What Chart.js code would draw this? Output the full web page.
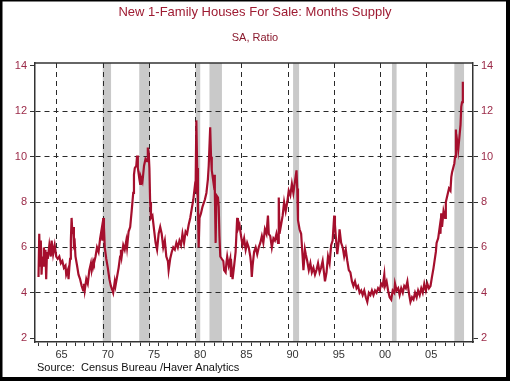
<!DOCTYPE html>
<html><head><meta charset="utf-8">
<script src="https://cdn.jsdelivr.net/npm/chart.js@4.4.1/dist/chart.umd.min.js"></script>
<style>html,body{margin:0;padding:0;background:#fff}#wrap{width:510px;height:381px;position:relative}</style>
</head><body><div id="wrap"><canvas id="c" width="510" height="381"></canvas></div>
<script>
const years = [
1963.00,1963.08,1963.17,1963.25,1963.33,1963.42,1963.50,1963.58,1963.67,1963.75,1963.83,1963.92,
1964.00,1964.17,1964.33,1964.42,1964.58,1964.75,1964.92,
1965.08,1965.25,1965.42,1965.58,1965.75,1965.92,
1966.00,1966.17,1966.25,1966.33,1966.42,1966.50,1966.58,1966.67,1966.75,1966.83,1966.92,
1967.00,1967.17,1967.33,1967.50,1967.67,1967.83,1967.92,
1968.00,1968.17,1968.33,1968.50,1968.67,1968.75,1968.92,
1969.00,1969.17,1969.33,1969.50,1969.67,1969.83,1969.92,
1970.00,1970.08,1970.17,1970.33,1970.50,1970.67,1970.83,
1971.00,1971.08,1971.25,1971.33,1971.50,1971.67,1971.83,1971.92,
1972.00,1972.17,1972.33,1972.50,1972.58,1972.75,1972.92,
1973.08,1973.25,1973.33,1973.42,1973.58,1973.67,1973.75,1973.92,
1974.00,1974.08,1974.25,1974.42,1974.58,1974.75,1974.83,1974.92,
1975.00,1975.08,1975.17,1975.33,1975.50,1975.67,1975.83,
1976.00,1976.17,1976.33,1976.50,1976.67,1976.83,
1977.00,1977.08,1977.25,1977.42,1977.58,1977.75,1977.92,
1978.08,1978.25,1978.42,1978.58,1978.75,1978.92,
1979.08,1979.25,1979.42,1979.58,1979.75,1979.92,
1980.00,1980.08,1980.17,1980.25,1980.33,1980.42,1980.58,1980.75,
1981.00,1981.17,1981.33,1981.42,1981.58,1981.67,1981.75,1981.92,
1982.00,1982.08,1982.17,1982.25,1982.42,1982.50,1982.58,1982.67,1982.83,
1983.00,1983.08,1983.25,1983.33,1983.42,1983.58,1983.75,1983.83,1983.92,
1984.00,1984.17,1984.33,1984.42,1984.50,1984.58,1984.75,1984.92,
1985.08,1985.25,1985.42,1985.58,1985.75,1985.92,
1986.00,1986.08,1986.17,1986.33,1986.50,1986.67,1986.83,
1987.00,1987.17,1987.33,1987.50,1987.67,1987.83,1987.92,
1988.08,1988.25,1988.42,1988.58,1988.75,1988.92,
1989.00,1989.08,1989.25,1989.42,1989.58,1989.75,1989.92,
1990.08,1990.25,1990.42,1990.58,1990.75,1990.92,
1991.00,1991.08,1991.25,1991.42,1991.58,1991.67,1991.83,1991.92,
1992.08,1992.25,1992.42,1992.58,1992.75,1992.92,
1993.08,1993.25,1993.42,1993.58,1993.75,1993.92,
1994.00,1994.17,1994.33,1994.50,1994.67,1994.83,
1995.00,1995.08,1995.17,1995.33,1995.50,1995.58,1995.75,1995.92,
1996.08,1996.25,1996.42,1996.58,1996.75,1996.92,
1997.08,1997.25,1997.42,1997.58,1997.75,1997.92,
1998.08,1998.25,1998.42,1998.58,1998.75,1998.92,
1999.08,1999.25,1999.42,1999.58,1999.75,1999.92,
2000.08,2000.25,2000.42,2000.50,2000.67,2000.83,
2001.00,2001.17,2001.33,2001.50,2001.58,2001.75,2001.92,
2002.08,2002.25,2002.42,2002.58,2002.75,2002.92,
2003.08,2003.25,2003.42,2003.58,2003.75,2003.92,
2004.08,2004.25,2004.42,2004.58,2004.75,2004.92,
2005.08,2005.25,2005.42,2005.58,2005.75,
2006.00,2006.08,2006.25,2006.42,2006.50,2006.58,2006.67,2006.83,
2007.00,2007.08,2007.25,2007.42,2007.58,2007.67,2007.75,
2008.00,2008.08,2008.17,2008.25,2008.33,2008.42,2008.58,2008.67,2008.75,2008.83,2008.92
];
const supply = [
4.7,6.6,5.2,6.3,4.8,5.6,5.2,6.0,5.5,5.9,4.6,5.8,
5.5,6.1,5.6,6.3,5.7,6.1,5.6,
5.5,5.6,5.3,5.4,5.1,5.2,
4.8,5.0,4.6,5.1,5.5,6.3,7.3,6.6,6.9,6.1,6.2,
5.6,5.2,4.8,4.6,4.3,4.1,4.4,
4.1,4.6,4.4,5.0,5.3,5.0,5.4,
5.3,5.6,6.0,5.8,6.4,6.8,6.3,
7.3,6.9,6.0,5.5,5.1,4.6,4.3,
4.1,4.0,4.5,4.3,4.7,5.1,5.6,5.9,
5.6,6.1,5.9,6.3,6.0,6.7,6.9,
7.6,8.4,9.2,9.5,9.6,10.05,9.5,9.0,
8.8,9.1,8.9,9.6,9.9,9.8,10.4,10.2,
9.5,8.0,7.3,7.4,6.8,6.2,5.9,
6.6,6.9,6.6,6.0,6.3,5.6,
5.4,5.0,5.5,5.8,6.0,5.9,6.2,
6.0,6.3,6.1,6.6,6.2,6.7,
6.6,7.0,7.3,7.7,8.1,8.7,
8.6,11.6,9.5,8.0,6.0,7.3,7.5,7.8,
8.1,8.4,9.0,9.6,11.3,10.0,9.4,8.9,
9.2,8.5,6.2,8.3,8.2,7.8,6.5,5.6,5.5,
5.4,5.0,4.9,5.3,5.6,5.2,5.5,4.7,5.0,
4.6,5.2,5.8,6.6,7.3,6.8,7.0,6.5,
6.1,6.4,5.9,6.2,6.0,5.6,
5.3,4.7,5.2,5.8,6.0,5.7,6.0,
6.2,6.5,6.2,6.8,6.6,7.4,6.6,
6.5,6.0,6.4,6.3,6.6,6.2,
8.2,6.6,7.0,7.4,8.0,7.6,8.0,
8.5,8.3,8.8,8.4,8.9,9.4,
8.6,7.2,6.8,6.6,5.6,5.0,5.9,5.7,
5.4,5.0,5.3,4.9,5.1,4.8,
5.0,5.3,4.9,5.1,5.4,4.8,
4.5,4.9,5.6,5.3,6.1,6.3,
7.4,7.0,6.5,5.7,6.3,6.8,6.2,6.0,
5.6,5.9,5.4,5.0,4.9,4.5,
4.3,4.5,4.2,4.3,4.0,4.1,
3.9,4.1,3.8,3.6,4.0,3.9,
4.1,3.9,4.1,4.0,4.2,4.1,
4.4,4.3,4.8,4.3,4.5,4.1,
3.8,3.7,4.1,4.0,4.4,4.1,4.2,
3.9,4.2,4.0,4.3,4.2,4.5,
4.0,3.6,3.8,3.7,4.0,3.8,
4.1,3.9,4.2,4.0,4.4,4.1,
4.4,4.2,4.3,4.7,5.1,
5.8,6.2,6.4,6.9,6.6,7.5,6.9,7.6,
7.3,8.0,8.3,8.6,8.5,9.1,9.3,
9.7,10.0,11.2,10.3,10.6,10.3,11.0,11.4,12.2,12.4,13.3
];
const recessionStart = [1969.95, 1973.9, 1980.0, 1981.5, 1990.55, 2001.25, 2008.0];
const recessionEnd   = [1970.85, 1975.05, 1980.5, 1982.85, 1991.2, 2001.75, 2009.05];
const yTickValues = [2, 4, 6, 8, 10, 12, 14];
const majorYears = [1965, 1970, 1975, 1980, 1985, 1990, 1995, 2000, 2005];
const majorLabels = ['65', '70', '75', '80', '85', '90', '95', '00', '05'];
const minorYears = [1963,1964,1965,1966,1967,1968,1969,1970,1971,1972,1973,1974,1975,1976,1977,1978,1979,1980,1981,1982,1983,1984,1985,1986,1987,1988,1989,1990,1991,1992,1993,1994,1995,1996,1997,1998,1999,2000,2001,2002,2003,2004,2005,2006,2007,2008,2009];
const titleText = 'New 1-Family Houses For Sale: Months Supply';
const subtitleText = 'SA, Ratio';
const sourceText = 'Source:  Census Bureau /Haver Analytics';

const FONT = "'Liberation Sans', Arial, sans-serif";
const points = years.map((y, i) => ({x: y, y: supply[i]}));

const deco = {
  id: 'deco',
  beforeDraw(chart) {
    const {ctx, chartArea: a, scales: {x}} = chart;
    ctx.save();
    ctx.fillStyle = '#fff';
    ctx.fillRect(0, 0, chart.width, chart.height);
    ctx.fillStyle = '#c9c9c9';
    for (let i = 0; i < recessionStart.length; i++) {
      const x0 = x.getPixelForValue(recessionStart[i]);
      const x1 = x.getPixelForValue(recessionEnd[i]);
      ctx.fillRect(x0, a.top, x1 - x0, a.bottom - a.top);
    }
    ctx.restore();
  },
  afterDraw(chart) {
    const {ctx, chartArea: a} = chart;
    ctx.save();
    ctx.strokeStyle = '#333';
    ctx.lineWidth = 1.5;
    ctx.beginPath();
    ctx.moveTo(a.left, a.top); ctx.lineTo(a.right, a.top);
    ctx.stroke();
    ctx.fillStyle = '#000';
    ctx.fillRect(0, 0, 2.5, chart.height);
    ctx.fillRect(0, 0, chart.width, 1.5);
    ctx.fillRect(chart.width - 4, 0, 4, chart.height);
    ctx.fillRect(0, chart.height - 4, chart.width, 4);
    ctx.textAlign = 'center';
    ctx.textBaseline = 'middle';
    ctx.fillStyle = '#9e1b32';
    ctx.font = '13px ' + FONT;
    ctx.fillText(titleText, 255, 12.5);
    ctx.fillStyle = '#8a1a2e';
    ctx.font = '11px ' + FONT;
    ctx.fillText(subtitleText, 255, 38);
    ctx.textAlign = 'left';
    ctx.fillStyle = '#111';
    ctx.font = '11px ' + FONT;
    ctx.fillText(sourceText, 37, 368);
    ctx.restore();
  }
};

const yAxisCommon = (pos, width) => ({
  type: 'linear', position: pos, min: 1.83, max: 14.13,
  afterBuildTicks: s => { s.ticks = yTickValues.map(v => ({value: v})); },
  afterFit: s => { s.width = width; },
  ticks: {color: '#9b2a48', font: {family: FONT, size: 11}, padding: 3},
  border: {display: true, color: '#333', width: 1.5, dash: [5, 4]},
  grid: {
    drawOnChartArea: pos === 'left',
    color: c => (c.tick && (c.tick.value === 2 || c.tick.value === 14)) ? 'rgba(0,0,0,0)' : '#2a2a2a',
    tickColor: '#333', tickLength: 5, tickBorderDash: [], lineWidth: 1
  }
});

new Chart(document.getElementById('c'), {
  type: 'line',
  data: {datasets: [{data: points, borderColor: '#a50f2d', borderWidth: 2.2, pointRadius: 0, tension: 0, fill: false}]},
  options: {
    responsive: false, animation: false, devicePixelRatio: 1,
    layout: {padding: {top: 63, left: 0, right: 0, bottom: 0}},
    plugins: {legend: {display: false}, tooltip: {enabled: false}, title: {display: false}},
    scales: {
      x: {
        type: 'linear', min: 1962.62, max: 2010.02,
        afterBuildTicks: s => { s.ticks = minorYears.map(v => ({value: v})); },
        afterFit: s => { s.height = 39; },
        ticks: {
          autoSkip: false, maxRotation: 0, minRotation: 0, color: '#333', padding: 2, labelOffset: 4.6,
          font: {family: FONT, size: 11},
          callback: v => { const k = majorYears.indexOf(v); return k >= 0 ? majorLabels[k] : ''; }
        },
        border: {display: true, color: '#333', width: 1.5, dash: [5, 4]},
        grid: {
          color: c => (c.tick && majorYears.indexOf(c.tick.value) >= 0) ? '#2a2a2a' : 'rgba(0,0,0,0)',
          tickColor: '#333', tickLength: 4, tickBorderDash: [], lineWidth: 1
        }
      },
      y: yAxisCommon('left', 35),
      y2: yAxisCommon('right', 37)
    }
  },
  plugins: [deco]
});
</script>
</body></html>
